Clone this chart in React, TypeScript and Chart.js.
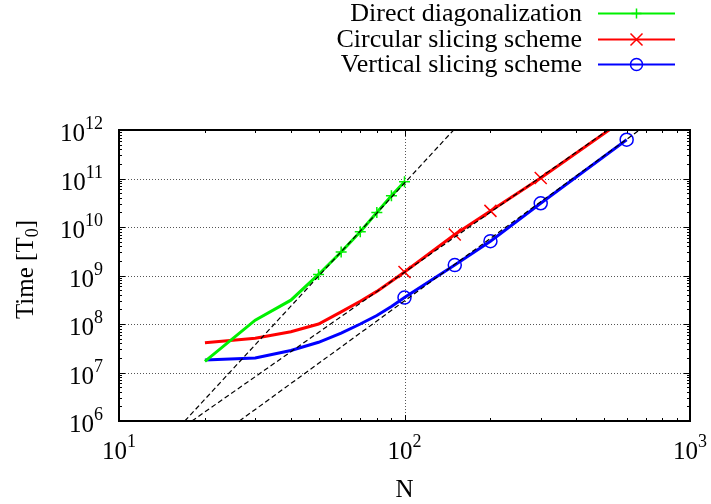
import React, { useEffect, useRef } from "react";
import { Chart, registerables } from "chart.js";

Chart.register(...registerables);

// ---- data ----
const N_DIRECT = [20, 30, 40, 50, 60, 70, 80, 90, 100];
const T_DIRECT = [1.7e7, 1.2e8, 3.1e8, 1.05e9, 3.05e9, 8.0e9, 2.0e10, 4.4e10, 8.6e10];
const MARK_DIRECT = [0, 0, 0, 1, 1, 1, 1, 1, 1];

const N_SLICE = [20, 30, 40, 50, 60, 70, 80, 90, 100, 150, 200, 300, 600];
const T_CIRCULAR = [4.1e7, 5.1e7, 6.9e7, 1.0e8, 1.78e8, 2.95e8, 4.7e8, 7.6e8, 1.18e9, 7.0e9, 2.15e10, 1.02e11, 1.8e12];
const MARK_CIRCULAR = [0, 0, 0, 0, 0, 0, 0, 0, 1, 1, 1, 1, 1];
const T_VERTICAL = [1.8e7, 2.0e7, 2.85e7, 4.2e7, 6.5e7, 1.0e8, 1.5e8, 2.3e8, 3.5e8, 1.64e9, 5.1e9, 3.08e10, 6.3e11];
const MARK_VERTICAL = [0, 0, 0, 0, 0, 0, 0, 0, 1, 1, 1, 1, 1];

// dashed power-law guide lines (end points)
const FIT_DIRECT_N = [17.0, 148.6];
const FIT_CIRCULAR_N = [18.0, 516];
const FIT_VERTICAL_N = [26.4, 665];
const FIT_T = [1e6, 1e12];

const X_TICKS = [10, 100, 1000];
const X_EXP = ["1", "2", "3"];
const Y_TICKS = [1e6, 1e7, 1e8, 1e9, 1e10, 1e11, 1e12];
const Y_EXP = ["6", "7", "8", "9", "10", "11", "12"];

const LEGEND_LABELS = ["Direct diagonalization", "Circular slicing scheme", "Vertical slicing scheme"];
const GREEN = "#00f000";
const RED = "#ff0000";
const BLUE = "#0000ff";
const COLORS = [GREEN, RED, BLUE];

const FONT = "'Liberation Serif', 'Times New Roman', serif";
const BIG = 25;
const SMALL = 18;

const pts = (xs: number[], ys: number[]) => xs.map((x, i) => ({ x, y: ys[i] }));

function marker(ctx: CanvasRenderingContext2D, kind: number, x: number, y: number, r: number) {
  ctx.beginPath();
  if (kind === 0) {
    ctx.moveTo(x - r, y); ctx.lineTo(x + r, y);
    ctx.moveTo(x, y - r); ctx.lineTo(x, y + r);
  } else if (kind === 1) {
    ctx.moveTo(x - r, y - r); ctx.lineTo(x + r, y + r);
    ctx.moveTo(x - r, y + r); ctx.lineTo(x + r, y - r);
  } else {
    ctx.arc(x, y, r, 0, Math.PI * 2);
  }
  ctx.stroke();
}

const framePlugin = {
  id: "frame",
  beforeDatasetsDraw(chart: any) {
    const { ctx, chartArea: a, scales } = chart;
    const xs = scales.x, ys = scales.y;
    ctx.save();
    ctx.strokeStyle = "#555";
    ctx.lineWidth = 1;
    ctx.setLineDash([1, 2]);
    for (const v of X_TICKS) {
      const px = Math.round(xs.getPixelForValue(v)) + 0.5;
      if (px > a.left + 2 && px < a.right - 2) {
        ctx.beginPath(); ctx.moveTo(px, a.top); ctx.lineTo(px, a.bottom); ctx.stroke();
      }
    }
    for (const v of Y_TICKS) {
      const py = Math.round(ys.getPixelForValue(v)) + 0.5;
      if (py > a.top + 2 && py < a.bottom - 2) {
        ctx.beginPath(); ctx.moveTo(a.left, py); ctx.lineTo(a.right, py); ctx.stroke();
      }
    }
    ctx.restore();
  },
  afterDatasetsDraw(chart: any) {
    const { ctx, chartArea: a, scales } = chart;
    const xs = scales.x, ys = scales.y;
    ctx.save();
    ctx.strokeStyle = "#000";
    ctx.lineWidth = 1;
    const drawX = (v: number, len: number) => {
      const px = Math.round(xs.getPixelForValue(v)) + 0.5;
      ctx.beginPath();
      ctx.moveTo(px, a.bottom); ctx.lineTo(px, a.bottom - len);
      ctx.moveTo(px, a.top); ctx.lineTo(px, a.top + len);
      ctx.stroke();
    };
    const drawY = (v: number, len: number) => {
      const py = Math.round(ys.getPixelForValue(v)) + 0.5;
      ctx.beginPath();
      ctx.moveTo(a.left, py); ctx.lineTo(a.left + len, py);
      ctx.moveTo(a.right, py); ctx.lineTo(a.right - len, py);
      ctx.stroke();
    };
    for (let k = 0; k < X_TICKS.length; k++) {
      drawX(X_TICKS[k], 6);
      if (k < X_TICKS.length - 1) for (let m = 2; m <= 9; m++) drawX(X_TICKS[k] * m, 3);
    }
    for (let k = 0; k < Y_TICKS.length; k++) {
      drawY(Y_TICKS[k], 6);
      if (k < Y_TICKS.length - 1) for (let m = 2; m <= 9; m++) drawY(Y_TICKS[k] * m, 3);
    }
    ctx.lineWidth = 2;
    ctx.strokeRect(a.left, a.top, a.right - a.left, a.bottom - a.top);
    ctx.restore();
  },
  afterDraw(chart: any) {
    const { ctx, chartArea: a, scales } = chart;
    const xs = scales.x, ys = scales.y;
    ctx.save();
    ctx.fillStyle = "#000";
    ctx.textBaseline = "alphabetic";
    const big = `${BIG}px ${FONT}`;
    const small = `${SMALL}px ${FONT}`;
    for (let k = 0; k < X_TICKS.length; k++) {
      const px = xs.getPixelForValue(X_TICKS[k]);
      ctx.font = big; const w1 = ctx.measureText("10").width;
      ctx.font = small; const w2 = ctx.measureText(X_EXP[k]).width;
      const x0 = px - (w1 + w2) / 2;
      ctx.textAlign = "left";
      ctx.font = big; ctx.fillText("10", x0, a.bottom + 38);
      ctx.font = small; ctx.fillText(X_EXP[k], x0 + w1, a.bottom + 26);
    }
    const rightEdge = a.left - 16;
    for (let k = 0; k < Y_TICKS.length; k++) {
      const py = ys.getPixelForValue(Y_TICKS[k]);
      ctx.font = small; const w2 = ctx.measureText(Y_EXP[k]).width;
      ctx.font = big; const w1 = ctx.measureText("10").width;
      const x0 = rightEdge - w1 - w2;
      ctx.textAlign = "left";
      ctx.font = big; ctx.fillText("10", x0, py + 11);
      ctx.font = small; ctx.fillText(Y_EXP[k], x0 + w1, py - 1);
    }
    ctx.font = big; ctx.textAlign = "center";
    ctx.fillText("N", (a.left + a.right) / 2, a.bottom + 76);
    ctx.save();
    ctx.translate(33, (a.top + a.bottom) / 2 - 6);
    ctx.rotate(-Math.PI / 2);
    ctx.textAlign = "left";
    ctx.font = big; const wa = ctx.measureText("Time [T").width;
    ctx.font = small; const wb = ctx.measureText("0").width;
    ctx.font = big; const wc = ctx.measureText("]").width;
    let sx = -(wa + wb + wc) / 2;
    ctx.font = big; ctx.fillText("Time [T", sx, 0); sx += wa;
    ctx.font = small; ctx.fillText("0", sx, 5); sx += wb;
    ctx.font = big; ctx.fillText("]", sx, 0);
    ctx.restore();
    const rowsY = [13, 39, 64];
    for (let i = 0; i < 3; i++) {
      const yy = rowsY[i];
      ctx.font = `26px ${FONT}`;
      ctx.textAlign = "right";
      ctx.fillStyle = "#000";
      ctx.fillText(LEGEND_LABELS[i], 582, yy + 8);
      ctx.strokeStyle = COLORS[i];
      ctx.lineWidth = 2;
      ctx.beginPath(); ctx.moveTo(598, yy + 0.5); ctx.lineTo(675, yy + 0.5); ctx.stroke();
      ctx.lineWidth = 1.5;
      marker(ctx, i, 636.5, yy + 0.5, i === 0 ? 5 : 6);
    }
    ctx.restore();
  },
};

export default function App() {
  const ref = useRef<HTMLCanvasElement | null>(null);
  useEffect(() => {
    if (!ref.current) return;
    const series = (label: string, xs: number[], ys: number[], marks: number[], color: string, style: string, r: number) => ({
      label,
      data: pts(xs, ys),
      borderColor: color,
      backgroundColor: "rgba(0,0,0,0)",
      borderWidth: 3,
      pointStyle: style,
      pointRadius: marks.map((m) => (m ? r : 0)),
      pointBorderWidth: 1.5,
      pointBorderColor: color,
      pointBackgroundColor: "rgba(0,0,0,0)",
      pointHoverRadius: 0,
      tension: 0,
      order: 2,
    });
    const fit = (xs: number[]) => ({
      label: "fit",
      data: pts(xs, FIT_T),
      borderColor: "#000",
      borderWidth: 1.2,
      borderDash: [5, 3],
      pointRadius: 0,
      tension: 0,
      order: 1,
    });
    const chart = new Chart(ref.current, {
      type: "line",
      data: {
        datasets: [
          fit(FIT_DIRECT_N),
          fit(FIT_CIRCULAR_N),
          fit(FIT_VERTICAL_N),
          series(LEGEND_LABELS[0], N_DIRECT, T_DIRECT, MARK_DIRECT, GREEN, "cross", 5.5),
          series(LEGEND_LABELS[1], N_SLICE, T_CIRCULAR, MARK_CIRCULAR, RED, "crossRot", 8.5),
          series(LEGEND_LABELS[2], N_SLICE, T_VERTICAL, MARK_VERTICAL, BLUE, "circle", 6.5),
        ] as any,
      },
      options: {
        animation: false,
        responsive: false,
        devicePixelRatio: 1,
        layout: { padding: { left: 119, right: 21, top: 130, bottom: 83 } },
        plugins: { legend: { display: false }, tooltip: { enabled: false }, title: { display: false } },
        events: [],
        scales: {
          x: { type: "logarithmic", min: 10, max: 1000, display: false },
          y: { type: "logarithmic", min: 1e6, max: 1e12, display: false },
        },
      },
      plugins: [framePlugin],
    });
    return () => chart.destroy();
  }, []);
  return (
    <div style={{ position: "fixed", left: 0, top: 0, width: 711, height: 504, background: "#fff" }}>
      <canvas ref={ref} width={711} height={504} style={{ display: "block" }} />
    </div>
  );
}
